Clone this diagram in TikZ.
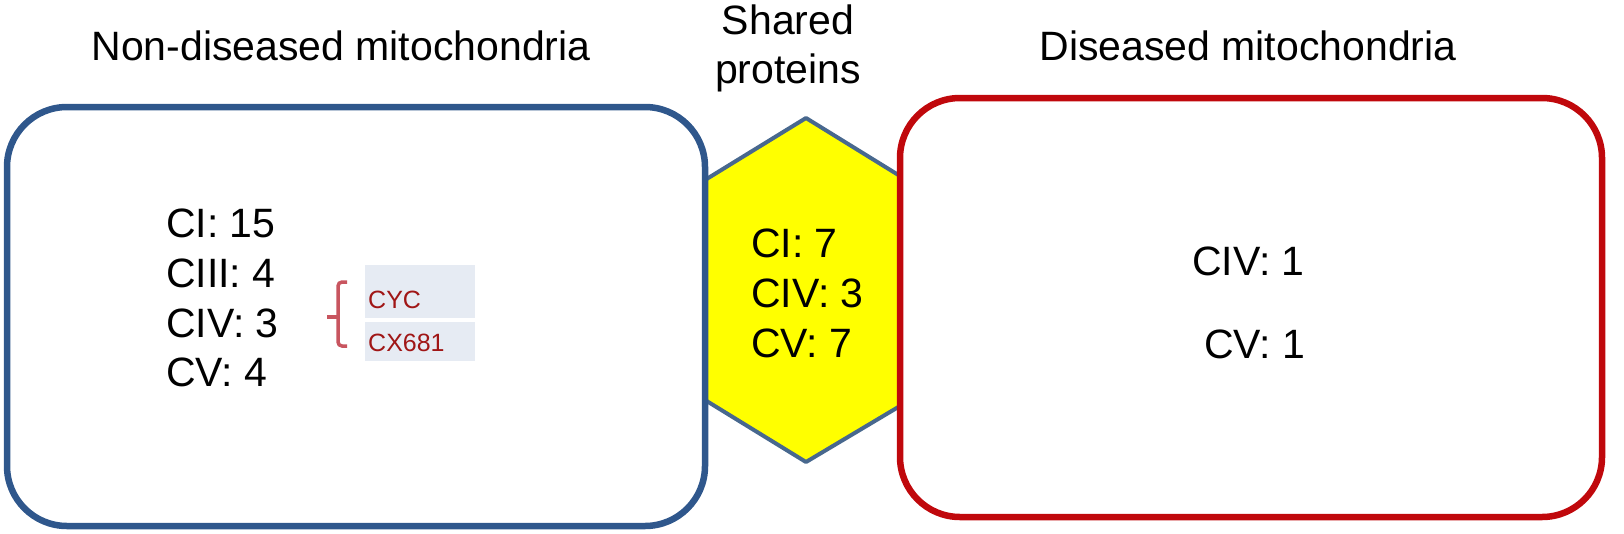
\documentclass[tikz,border=0pt]{standalone}
\usepackage{fontspec}
\setmainfont{Liberation Sans}
\definecolor{boxblue}{RGB}{47,87,140}
\definecolor{boxred}{RGB}{192,8,12}
\definecolor{hexedge}{RGB}{72,104,142}
\definecolor{hexfill}{RGB}{255,255,0}
\definecolor{labred}{RGB}{160,22,22}
\definecolor{bracered}{RGB}{200,85,95}
\definecolor{tagbg}{RGB}{230,235,243}
\newcommand\bigtxt{\fontsize{41}{49}\selectfont}
\newcommand\smalltxt{\fontsize{25}{30}\selectfont}
\tikzset{
  roundbox/.style={draw, line width=6.5pt, rounded corners=60pt, fill=none, inner sep=0pt},
  lbl/.style={anchor=base west, inner sep=0pt, font=\bigtxt},
  ttl/.style={anchor=base, inner sep=0pt, font=\bigtxt},
  tag/.style={anchor=base west, inner sep=0pt, font=\smalltxt, text=labred},
}
\begin{document}
\begin{tikzpicture}[x=1pt,y=-1pt]
\useasboundingbox (0,0) rectangle (1624,533);
% hexagon (shared)
\coordinate (ht) at (806,118);
\coordinate (hur) at (900,176);
\coordinate (hlr) at (900,406);
\coordinate (hb) at (806,462);
\coordinate (hll) at (705,400);
\coordinate (hul) at (705,180);
\draw[hexedge, fill=hexfill, line width=4pt, line join=round] (ht) -- (hur) -- (hlr) -- (hb) -- (hll) -- (hul) -- cycle;
% boxes
\node[roundbox, draw=boxblue, minimum width=698pt, minimum height=419pt] (nond) at (356,316.5) {};
\node[roundbox, draw=boxred, minimum width=702pt, minimum height=419pt] (dis) at (1251,307.5) {};
% titles
\node[ttl] (t1) at (341,60) {Non-diseased mitochondria};
\node[ttl] (t2) at (788,34) {Shared};
\node[ttl] (t3) at (788,83) {proteins};
\node[ttl] (t4) at (1248,60) {Diseased mitochondria};
% left list
\node[lbl] (l1) at (166,237) {CI: 15};
\node[lbl] (l2) at (166,287) {CIII: 4};
\node[lbl] (l3) at (166,337) {CIV: 3};
\node[lbl] (l4) at (166,386) {CV: 4};
% tags
\fill[tagbg] (365,265) rectangle (475,318);
\fill[tagbg] (365,322) rectangle (475,361);
\node[tag] (cyc) at (368,308) {CYC};
\node[tag] (cx) at (368,351) {CX681};
\draw[bracered, line width=3.5pt, rounded corners=4pt]
  (347,282) -- (338,282) -- (338,346) -- (347,346);
\draw[bracered, line width=4pt] (327,317) -- (338,317);
% shared list
\node[lbl] (s1) at (751,257) {CI: 7};
\node[lbl] (s2) at (751,307) {CIV: 3};
\node[lbl] (s3) at (751,357) {CV: 7};
% right list
\node[lbl] (r1) at (1192,275) {CIV: 1};
\node[lbl] (r2) at (1204,358) {CV: 1};
\end{tikzpicture}
\end{document}
